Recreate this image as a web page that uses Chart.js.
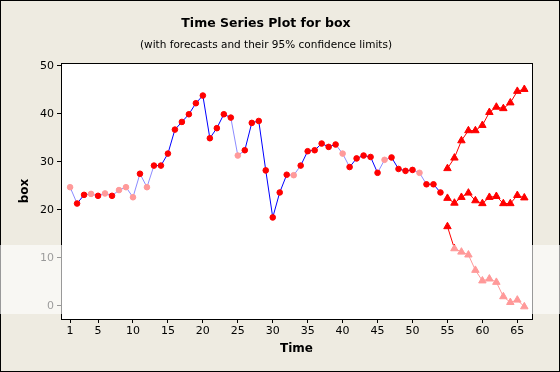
<!DOCTYPE html>
<html><head><meta charset="utf-8">
<script src="https://cdn.jsdelivr.net/npm/chart.js@4/dist/chart.umd.min.js"></script>
<style>html,body{margin:0;padding:0;background:#EEEBE1;}#wrap{width:560px;height:372px;}</style>
</head><body><div id="wrap"><canvas id="c" width="560" height="372"></canvas></div>
<script>
// ---- data ----
const obsTime = [1,2,3,4,5,6,7,8,9,10,11,12,13,14,15,16,17,18,19,20,21,22,23,24,25,26,27,28,29,30,31,32,33,34,35,36,37,38,39,40,41,42,43,44,45,46,47,48,49,50,51,52,53,54];
const boxValues = [24.7,21.3,23.1,23.3,22.9,23.4,22.9,24.1,24.7,22.6,27.5,24.7,29.2,29.2,31.7,36.7,38.3,39.9,42.2,43.8,34.9,37.0,39.9,39.2,31.3,32.4,38.1,38.5,28.2,18.4,23.6,27.3,27.2,29.2,32.2,32.4,33.8,33.1,33.6,31.7,28.9,30.7,31.3,31.0,27.7,30.4,30.9,28.5,28.1,28.3,27.7,25.3,25.3,23.6];
const fcTime = [55,56,57,58,59,60,61,62,63,64,65,66];
const forecast = [22.4,21.4,22.6,23.5,21.9,21.3,22.6,22.8,21.3,21.3,23.0,22.5];
const upper95 = [28.6,30.8,34.4,36.5,36.5,37.6,40.3,41.4,41.1,42.3,44.7,45.1];
const lower95 = [16.5,11.9,11.2,10.6,7.4,5.2,5.6,4.9,1.9,0.7,1.2,-0.2];
const xTicks = [1,5,10,15,20,25,30,35,40,45,50,55,60,65];
const yTicks = [0,10,20,30,40,50];
const fadedObs = [1,4,6,8,9,10,12,25,33,40,46,51];

// ---- build ----
const pts = (xs, ys) => xs.map((x, i) => ({x, y: ys[i]}));
const isFaded = i => fadedObs.includes(obsTime[i]);
const RED = '#FF0000', PINK = '#FF9A9A', BLUE = '#0000FF', LBLUE = '#8C8CFF';
const FONT = 'DejaVu Sans';

const bgPlugin = {
  id: 'bg',
  beforeDraw(chart) {
    const {ctx, chartArea: a} = chart;
    ctx.save();
    ctx.fillStyle = '#EEEBE1';
    ctx.fillRect(0, 0, chart.width, chart.height);
    ctx.fillStyle = '#FFFFFF';
    ctx.fillRect(a.left, a.top, a.right - a.left, a.bottom - a.top);
    ctx.restore();
  },
  afterDraw(chart) {
    const {ctx, chartArea: a} = chart;
    ctx.save();
    ctx.strokeStyle = '#000';
    ctx.lineWidth = 1;
    ctx.strokeRect(Math.round(a.left) + 0.5, Math.round(a.top) + 0.5, Math.round(a.right - a.left), Math.round(a.bottom - a.top));
    ctx.strokeRect(0.5, 0.5, chart.width - 1, chart.height - 1);
    // translucent watermark band of the reference
    ctx.fillStyle = 'rgba(255,255,255,0.6)';
    ctx.fillRect(0, 245, chart.width, 69);
    ctx.restore();
  }
};

const tickFont = {family: FONT, size: 11};
new Chart(document.getElementById('c'), {
  type: 'line',
  data: {
    datasets: [
      {
        label: 'box', data: pts(obsTime, boxValues),
        borderColor: BLUE, borderWidth: 1,
        segment: {borderColor: c => (isFaded(c.p0DataIndex) || isFaded(c.p1DataIndex)) ? LBLUE : BLUE},
        pointStyle: 'circle', pointRadius: 2.8, pointBorderWidth: 1,
        pointBackgroundColor: obsTime.map((t, i) => isFaded(i) ? PINK : RED),
        pointBorderColor: obsTime.map((t, i) => isFaded(i) ? PINK : RED),
        tension: 0
      },
      {
        label: 'Forecast', data: pts(fcTime, forecast),
        borderColor: RED, borderWidth: 1, pointStyle: 'triangle', pointRadius: 4.3, pointBorderWidth: 1,
        pointBackgroundColor: RED, pointBorderColor: RED, tension: 0
      },
      {
        label: 'Upper', data: pts(fcTime, upper95),
        borderColor: RED, borderWidth: 1, pointStyle: 'triangle', pointRadius: 4.3, pointBorderWidth: 1,
        pointBackgroundColor: RED, pointBorderColor: RED, tension: 0
      },
      {
        label: 'Lower', data: pts(fcTime, lower95),
        borderColor: RED, borderWidth: 1, pointStyle: 'triangle', pointRadius: 4.3, pointBorderWidth: 1,
        pointBackgroundColor: RED, pointBorderColor: RED, tension: 0
      }
    ]
  },
  options: {
    responsive: false, devicePixelRatio: 1, animation: false,
    layout: {padding: {left: 0, right: 28, top: 0, bottom: 0}},
    plugins: {
      legend: {display: false},
      tooltip: {enabled: false},
      title: {display: true, text: 'Time Series Plot for box', color: '#000',
        font: {family: FONT, size: 12.5, weight: 'bold'}, padding: {top: 16, bottom: 0}},
      subtitle: {display: true, text: '(with forecasts and their 95% confidence limits)', color: '#000',
        font: {family: FONT, size: 10.5}, padding: {top: 8, bottom: 11.5}}
    },
    scales: {
      x: {
        type: 'linear', min: -0.3, max: 67.1,
        afterBuildTicks: s => { s.ticks = xTicks.map(v => ({value: v})); },
        afterFit: s => { s.height = 53; },
        ticks: {font: tickFont, color: '#000', autoSkip: false, maxRotation: 0, padding: 2},
        grid: {drawOnChartArea: false, drawTicks: true, tickLength: 4, color: '#000'},
        border: {color: '#000'},
        title: {display: true, text: 'Time', color: '#000', font: {family: FONT, size: 12, weight: 'bold'}, padding: {top: 0, bottom: 16}}
      },
      y: {
        type: 'linear', min: -2.77, max: 50.56,
        afterBuildTicks: s => { s.ticks = yTicks.map(v => ({value: v})); },
        afterFit: s => { s.width = 61; },
        ticks: {font: tickFont, color: '#000', padding: 3},
        grid: {drawOnChartArea: false, drawTicks: true, tickLength: 4, color: '#000'},
        border: {color: '#000'},
        title: {display: true, text: 'box', color: '#000', font: {family: FONT, size: 12, weight: 'bold'}, padding: {top: 18, bottom: 0}}
      }
    }
  },
  plugins: [bgPlugin]
});
</script>
</body></html>
